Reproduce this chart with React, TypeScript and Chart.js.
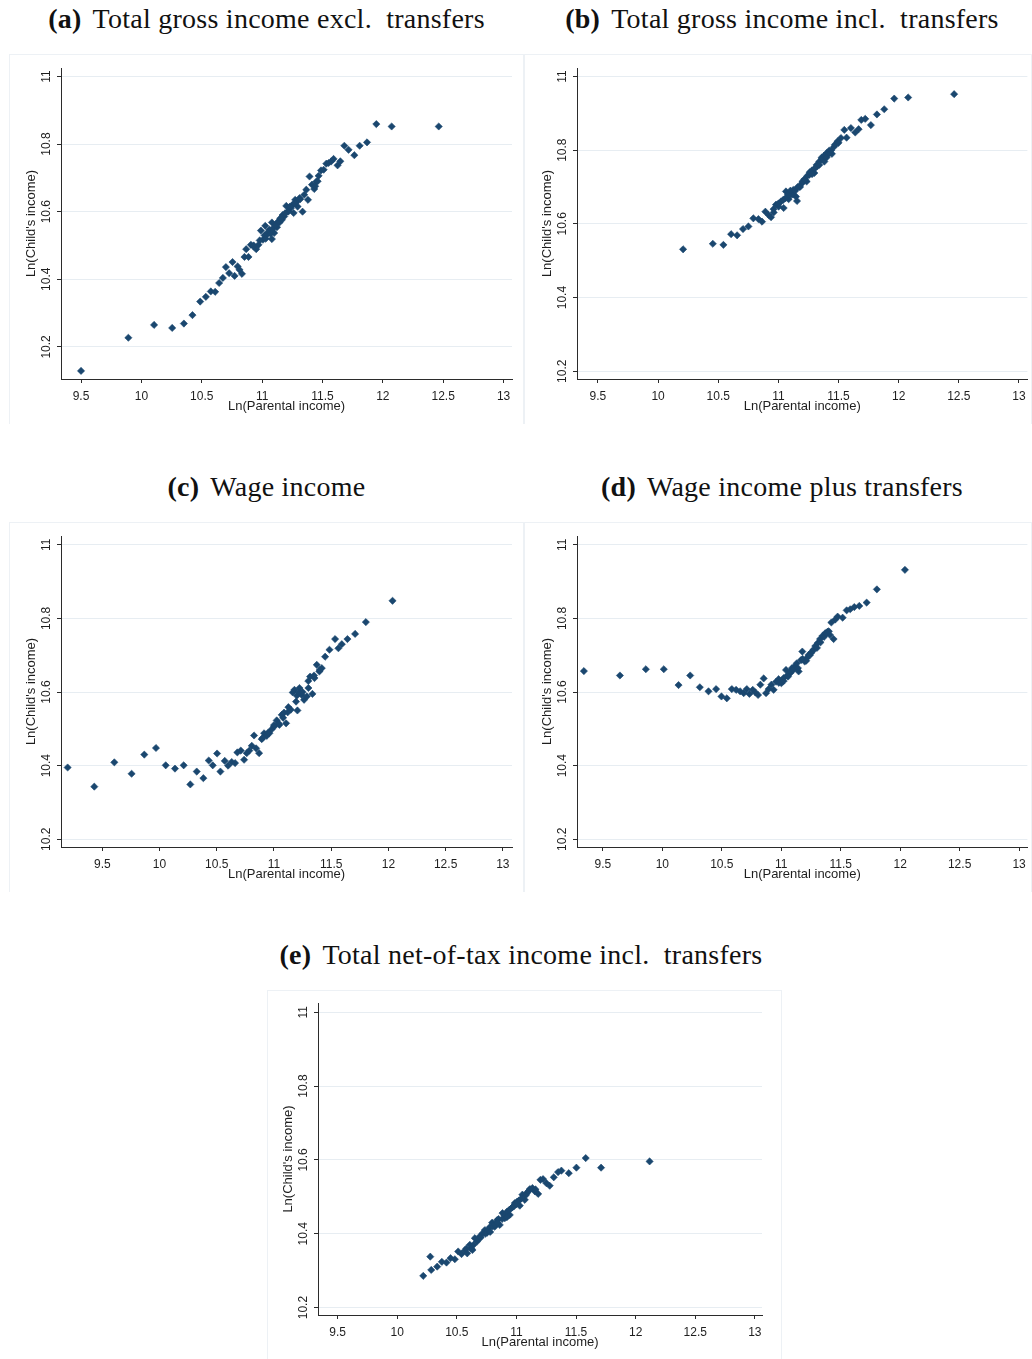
import React, { useEffect, useRef } from 'react';
import { Chart, registerables } from 'chart.js';

Chart.register(...registerables);

// ---------- shared axis data ----------
const X_TICKS = [9.5, 10, 10.5, 11, 11.5, 12, 12.5, 13];
const X_TICK_LABELS = ['9.5', '10', '10.5', '11', '11.5', '12', '12.5', '13'];
const Y_TICKS = [10.2, 10.4, 10.6, 10.8, 11];
const Y_TICK_LABELS = ['10.2', '10.4', '10.6', '10.8', '11'];
const X_TITLE = 'Ln(Parental income)';
const Y_TITLE = "Ln(Child's income)";

// ---------- (a) Total gross income excl. transfers ----------
const A_X = [9.5, 9.892, 10.105, 10.255, 10.352, 10.423, 10.487, 10.534, 10.575, 10.611, 10.644, 10.675, 10.7, 10.727, 10.755, 10.772, 10.797, 10.813, 10.833, 10.854, 10.868, 10.887, 10.907, 10.929, 10.951, 10.97, 10.99, 11.007, 11.026, 11.04, 11.061, 11.081, 11.081, 11.1, 11.123, 11.144, 11.164, 11.183, 11.2, 11.219, 11.239, 11.261, 11.274, 11.294, 11.316, 11.335, 11.349, 11.366, 11.38, 11.393, 11.413, 11.432, 11.449, 11.468, 11.488, 11.51, 11.532, 11.551, 11.573, 11.592, 11.625, 11.648, 11.681, 11.716, 11.764, 11.808, 11.869, 11.946, 12.073, 12.463, 11.05, 11.09, 11.13, 11.17, 11.21, 11.25, 11.15, 11.11, 11.29, 11.02, 10.93, 10.98, 11.03, 11.07, 11.19, 11.23, 11.27, 11.31, 11.44, 11.46];
const A_Y = [10.129, 10.227, 10.265, 10.256, 10.269, 10.294, 10.334, 10.348, 10.364, 10.363, 10.389, 10.404, 10.436, 10.418, 10.451, 10.41, 10.438, 10.428, 10.416, 10.466, 10.489, 10.466, 10.502, 10.497, 10.489, 10.502, 10.544, 10.517, 10.558, 10.532, 10.547, 10.568, 10.519, 10.537, 10.554, 10.568, 10.576, 10.586, 10.617, 10.601, 10.611, 10.596, 10.635, 10.615, 10.637, 10.6, 10.65, 10.665, 10.635, 10.704, 10.68, 10.667, 10.689, 10.706, 10.722, 10.724, 10.742, 10.744, 10.749, 10.756, 10.737, 10.749, 10.795, 10.783, 10.767, 10.795, 10.805, 10.859, 10.852, 10.852, 10.54, 10.55, 10.57, 10.59, 10.6, 10.62, 10.58, 10.56, 10.63, 10.53, 10.5, 10.515, 10.52, 10.535, 10.595, 10.615, 10.625, 10.64, 10.675, 10.69];

// ---------- (b) Total gross income incl. transfers ----------
const B_X = [10.208, 10.455, 10.543, 10.607, 10.657, 10.706, 10.751, 10.792, 10.834, 10.864, 10.892, 10.919, 10.939, 10.961, 10.98, 11.002, 11.022, 11.044, 11.063, 11.085, 11.105, 11.124, 11.146, 11.155, 11.174, 11.196, 11.216, 11.235, 11.257, 11.279, 11.299, 11.318, 11.34, 11.362, 11.382, 11.401, 11.423, 11.445, 11.465, 11.492, 11.52, 11.548, 11.567, 11.603, 11.639, 11.667, 11.689, 11.722, 11.769, 11.819, 11.88, 11.963, 12.079, 12.461, 11.06, 11.12, 11.18, 11.24, 11.3, 11.36, 11.42, 10.96, 11.0, 11.04, 11.08, 11.1, 11.14, 11.16, 11.2, 11.22, 11.26, 11.28, 11.32, 11.34, 11.38, 11.4, 11.44, 11.47, 11.5];
const B_Y = [10.531, 10.546, 10.543, 10.572, 10.569, 10.586, 10.593, 10.615, 10.613, 10.606, 10.633, 10.624, 10.618, 10.631, 10.652, 10.647, 10.661, 10.643, 10.688, 10.667, 10.679, 10.692, 10.674, 10.662, 10.701, 10.71, 10.721, 10.715, 10.733, 10.745, 10.738, 10.76, 10.769, 10.776, 10.769, 10.792, 10.799, 10.79, 10.81, 10.824, 10.833, 10.855, 10.834, 10.86, 10.848, 10.857, 10.882, 10.885, 10.868, 10.897, 10.911, 10.94, 10.943, 10.952, 10.67, 10.68, 10.7, 10.73, 10.75, 10.78, 10.79, 10.64, 10.655, 10.665, 10.68, 10.69, 10.69, 10.7, 10.715, 10.72, 10.74, 10.735, 10.755, 10.76, 10.785, 10.78, 10.8, 10.815, 10.82];

// ---------- (c) Wage income ----------
const C_X = [9.197, 9.43, 9.605, 9.756, 9.867, 9.969, 10.054, 10.135, 10.211, 10.269, 10.325, 10.383, 10.43, 10.465, 10.503, 10.532, 10.57, 10.599, 10.631, 10.66, 10.68, 10.71, 10.739, 10.762, 10.785, 10.806, 10.826, 10.844, 10.87, 10.893, 10.914, 10.937, 10.96, 10.981, 11.001, 11.024, 11.048, 11.068, 11.088, 11.106, 11.126, 11.147, 11.164, 11.179, 11.193, 11.205, 11.223, 11.243, 11.263, 11.287, 11.301, 11.316, 11.336, 11.354, 11.374, 11.397, 11.418, 11.447, 11.485, 11.534, 11.563, 11.593, 11.642, 11.709, 11.803, 12.036, 10.9, 10.95, 11.0, 11.04, 11.08, 11.12, 11.2, 11.22, 11.25, 11.3, 11.35, 11.4];
const C_Y = [10.395, 10.343, 10.409, 10.378, 10.43, 10.448, 10.401, 10.392, 10.401, 10.349, 10.384, 10.366, 10.414, 10.401, 10.433, 10.384, 10.413, 10.4, 10.41, 10.407, 10.436, 10.441, 10.416, 10.434, 10.441, 10.454, 10.482, 10.447, 10.434, 10.472, 10.488, 10.481, 10.488, 10.499, 10.506, 10.523, 10.511, 10.538, 10.544, 10.515, 10.559, 10.552, 10.599, 10.606, 10.574, 10.55, 10.611, 10.592, 10.579, 10.588, 10.611, 10.642, 10.595, 10.638, 10.674, 10.656, 10.665, 10.696, 10.715, 10.744, 10.719, 10.73, 10.744, 10.758, 10.79, 10.848, 10.475, 10.49, 10.51, 10.515, 10.53, 10.545, 10.59, 10.6, 10.6, 10.63, 10.645, 10.66];

// ---------- (d) Wage income plus transfers ----------
const D_X = [9.34, 9.643, 9.861, 10.012, 10.136, 10.234, 10.315, 10.388, 10.452, 10.497, 10.542, 10.584, 10.62, 10.654, 10.684, 10.71, 10.732, 10.76, 10.782, 10.805, 10.824, 10.852, 10.872, 10.894, 10.917, 10.936, 10.956, 10.978, 11.001, 11.02, 11.04, 11.057, 11.074, 11.09, 11.11, 11.13, 11.146, 11.166, 11.177, 11.197, 11.214, 11.23, 11.25, 11.27, 11.286, 11.306, 11.326, 11.348, 11.37, 11.39, 11.41, 11.44, 11.421, 11.454, 11.474, 11.516, 11.55, 11.58, 11.614, 11.656, 11.718, 11.804, 12.04, 10.98, 11.02, 11.05, 11.08, 11.1, 11.14, 11.18, 11.21, 11.24, 11.26, 11.3, 11.33, 11.36, 11.38, 11.4];
const D_Y = [10.657, 10.645, 10.662, 10.662, 10.619, 10.645, 10.613, 10.602, 10.608, 10.588, 10.583, 10.608, 10.606, 10.602, 10.597, 10.608, 10.595, 10.606, 10.599, 10.592, 10.62, 10.637, 10.597, 10.608, 10.62, 10.606, 10.628, 10.635, 10.624, 10.638, 10.66, 10.642, 10.651, 10.665, 10.669, 10.678, 10.656, 10.687, 10.71, 10.683, 10.692, 10.701, 10.706, 10.715, 10.725, 10.733, 10.744, 10.753, 10.76, 10.764, 10.755, 10.744, 10.789, 10.797, 10.805, 10.802, 10.822, 10.825, 10.831, 10.834, 10.843, 10.879, 10.932, 10.625, 10.63, 10.645, 10.655, 10.66, 10.665, 10.69, 10.685, 10.7, 10.71, 10.72, 10.735, 10.75, 10.76, 10.765];

// ---------- (e) Total net-of-tax income incl. transfers ----------
const E_X = [10.218, 10.277, 10.285, 10.335, 10.374, 10.413, 10.447, 10.483, 10.511, 10.539, 10.567, 10.587, 10.609, 10.631, 10.651, 10.67, 10.693, 10.715, 10.735, 10.754, 10.777, 10.796, 10.818, 10.838, 10.86, 10.883, 10.902, 10.922, 10.944, 10.966, 10.986, 11.006, 11.028, 11.05, 11.07, 11.089, 11.112, 11.134, 11.154, 11.182, 11.201, 11.223, 11.251, 11.279, 11.313, 11.349, 11.377, 11.439, 11.503, 11.581, 11.71, 12.117, 10.74, 10.8, 10.85, 10.9, 10.96, 11.02, 10.68, 10.62, 10.7, 10.76, 10.78, 10.82, 10.84, 10.88, 10.92, 10.94, 10.98, 11.0, 11.04, 11.08, 11.1, 11.16, 10.58, 10.64];
const E_Y = [10.286, 10.338, 10.302, 10.311, 10.324, 10.322, 10.334, 10.331, 10.352, 10.345, 10.355, 10.347, 10.37, 10.356, 10.388, 10.379, 10.393, 10.401, 10.41, 10.403, 10.418, 10.43, 10.419, 10.437, 10.424, 10.456, 10.442, 10.46, 10.451, 10.472, 10.483, 10.487, 10.476, 10.506, 10.492, 10.511, 10.521, 10.524, 10.515, 10.508, 10.546, 10.548, 10.537, 10.53, 10.553, 10.567, 10.571, 10.564, 10.579, 10.605, 10.579, 10.596, 10.4, 10.42, 10.44, 10.45, 10.47, 10.49, 10.385, 10.36, 10.39, 10.41, 10.405, 10.425, 10.43, 10.44, 10.445, 10.465, 10.475, 10.48, 10.495, 10.505, 10.515, 10.52, 10.36, 10.37];

// ---------- styling ----------
const MARKER = '#1a476f';
const AXIS = '#2b2b2b';
const GRID = '#e7edf2';
const FRAME = '#edf1f5';
const SANS = '"Liberation Sans", Arial, sans-serif';

type PanelSpec = {
  label: string;
  title: string;
  xs: number[];
  ys: number[];
  left: number;
  top: number;
  width: number;
  height: number;
  padL: number;
  padR: number;
  padT: number;
  padB: number;
  xMin: number;
  xMax: number;
  yMin: number;
  yMax: number;
  titleCenter: number;
  titleTop: number;
};

const axisTextPlugin = {
  id: 'axisText',
  afterDraw(chart: any) {
    const { ctx, chartArea, scales } = chart;
    const xs = scales.x;
    const ys = scales.y;
    ctx.save();
    ctx.fillStyle = '#1e1e1e';
    ctx.textAlign = 'center';
    ctx.textBaseline = 'alphabetic';
    ctx.font = `12px ${SANS}`;
    X_TICKS.forEach((v, i) => {
      ctx.fillText(X_TICK_LABELS[i], xs.getPixelForValue(v), chartArea.bottom + 21);
    });
    Y_TICKS.forEach((v, i) => {
      ctx.save();
      ctx.translate(chartArea.left - 11, ys.getPixelForValue(v));
      ctx.rotate(-Math.PI / 2);
      ctx.fillText(Y_TICK_LABELS[i], 0, 0);
      ctx.restore();
    });
    ctx.font = `13px ${SANS}`;
    ctx.fillText(X_TITLE, (chartArea.left + chartArea.right) / 2, chartArea.bottom + 31);
    ctx.save();
    ctx.translate(chartArea.left - 26.5, (chartArea.top + chartArea.bottom) / 2);
    ctx.rotate(-Math.PI / 2);
    ctx.fillText(Y_TITLE, 0, 0);
    ctx.restore();
    ctx.restore();
  },
};

function Panel({ spec }: { spec: PanelSpec }) {
  const ref = useRef<HTMLCanvasElement | null>(null);
  useEffect(() => {
    if (!ref.current) return;
    const chart = new Chart(ref.current, {
      type: 'scatter',
      data: {
        datasets: [
          {
            data: spec.xs.map((x, i) => ({ x, y: spec.ys[i] })),
            pointStyle: 'rectRot',
            pointRadius: 3.6,
            pointBorderWidth: 0.6,
            backgroundColor: MARKER,
            borderColor: MARKER,
          },
        ],
      },
      options: {
        responsive: false,
        animation: false,
        events: [],
        devicePixelRatio: 1,
        layout: { padding: { left: 0, right: spec.padR, top: spec.padT, bottom: 0 } },
        plugins: {
          legend: { display: false },
          tooltip: { enabled: false },
          title: { display: false },
        },
        scales: {
          x: {
            type: 'linear',
            position: 'bottom',
            min: spec.xMin,
            max: spec.xMax,
            afterBuildTicks: (s: any) => {
              s.ticks = X_TICKS.map((v) => ({ value: v }));
            },
            afterFit: (s: any) => {
              s.height = spec.padB;
            },
            ticks: { display: false },
            grid: {
              drawOnChartArea: false,
              drawTicks: true,
              tickLength: 4,
              tickColor: AXIS,
              tickWidth: 1,
            },
            border: { display: true, color: AXIS, width: 1 },
          },
          y: {
            type: 'linear',
            position: 'left',
            min: spec.yMin,
            max: spec.yMax,
            afterBuildTicks: (s: any) => {
              s.ticks = Y_TICKS.map((v) => ({ value: v }));
            },
            afterFit: (s: any) => {
              s.width = spec.padL;
            },
            ticks: { display: false },
            grid: {
              color: GRID,
              lineWidth: 1,
              drawTicks: true,
              tickLength: 4,
              tickColor: AXIS,
              tickWidth: 1,
            },
            border: { display: true, color: AXIS, width: 1 },
          },
        },
      },
      plugins: [axisTextPlugin],
    });
    return () => chart.destroy();
  }, [spec]);

  return (
    <>
      <div
        style={{
          position: 'absolute',
          left: spec.titleCenter - 300,
          width: 600,
          top: spec.titleTop,
          textAlign: 'center',
          fontFamily: '"Liberation Serif", "Times New Roman", serif',
          fontSize: 28,
          lineHeight: '28px',
          letterSpacing: '0.25px',
          color: '#111',
          whiteSpace: 'nowrap',
        }}
      >
        <span style={{ fontWeight: 'bold', marginRight: 11 }}>{spec.label}</span>
        <span>{spec.title}</span>
      </div>
      <div
        style={{
          position: 'absolute',
          left: spec.left,
          top: spec.top,
          width: spec.width,
          height: spec.height,
        }}
      >
        <canvas
          ref={ref}
          width={spec.width}
          height={spec.height}
          style={{ display: 'block', width: spec.width, height: spec.height }}
        />
        <div
          style={{
            position: 'absolute',
            left: 0,
            top: 0,
            width: spec.width,
            height: spec.height,
            boxSizing: 'border-box',
            borderTop: `1px solid ${FRAME}`,
            borderLeft: `1px solid ${FRAME}`,
            borderRight: `1px solid ${FRAME}`,
            pointerEvents: 'none',
          }}
        />
      </div>
    </>
  );
}

const PANELS: PanelSpec[] = [
  {
    label: '(a)', title: 'Total gross income excl.\u2002transfers', xs: A_X, ys: A_Y,
    left: 9, top: 54, width: 515, height: 370, padL: 52, padR: 12, padT: 14, padB: 45,
    xMin: 9.334, xMax: 13.07, yMin: 10.105, yMax: 11.025, titleCenter: 266.5, titleTop: 5,
  },
  {
    label: '(b)', title: 'Total gross income incl.\u2002transfers', xs: B_X, ys: B_Y,
    left: 524, top: 54, width: 508, height: 370, padL: 53, padR: 4, padT: 14, padB: 45,
    xMin: 9.326, xMax: 13.07, yMin: 10.179, yMax: 11.023, titleCenter: 782, titleTop: 5,
  },
  {
    label: '(c)', title: 'Wage income', xs: C_X, ys: C_Y,
    left: 9, top: 522, width: 515, height: 370, padL: 52, padR: 12, padT: 14, padB: 45,
    xMin: 9.139, xMax: 13.08, yMin: 10.179, yMax: 11.024, titleCenter: 266.5, titleTop: 473,
  },
  {
    label: '(d)', title: 'Wage income plus transfers', xs: D_X, ys: D_Y,
    left: 524, top: 522, width: 508, height: 370, padL: 53, padR: 4, padT: 14, padB: 45,
    xMin: 9.282, xMax: 13.07, yMin: 10.179, yMax: 11.024, titleCenter: 782, titleTop: 473,
  },
  {
    label: '(e)', title: 'Total net-of-tax income incl.\u2002transfers', xs: E_X, ys: E_Y,
    left: 267, top: 990, width: 515, height: 369, padL: 51, padR: 20, padT: 13, padB: 44,
    xMin: 9.335, xMax: 13.06, yMin: 10.18, yMax: 11.025, titleCenter: 521, titleTop: 941,
  },
];

export default function App() {
  return (
    <div
      style={{
        position: 'absolute',
        left: 0,
        top: 0,
        width: 1032,
        height: 1359,
        background: '#ffffff',
        overflow: 'hidden',
      }}
    >
      {PANELS.map((p) => (
        <Panel key={p.label} spec={p} />
      ))}
    </div>
  );
}
